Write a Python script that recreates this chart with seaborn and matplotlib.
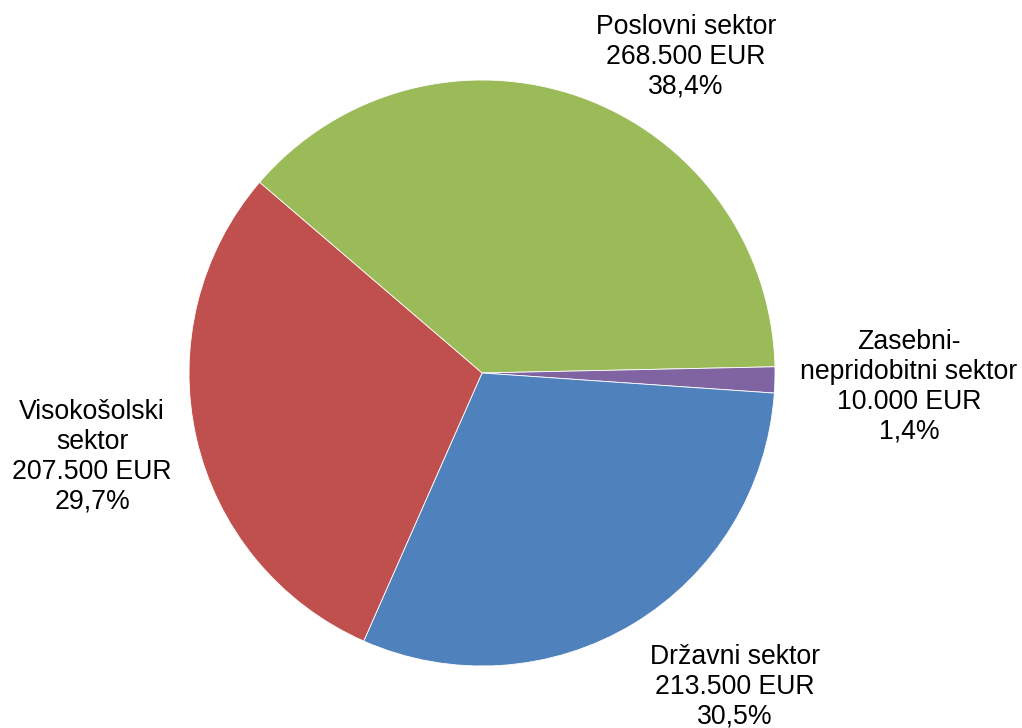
import matplotlib
matplotlib.use("Agg")
import matplotlib.pyplot as plt
import numpy as np
import seaborn as sb

sb.set_theme(style="white")
plt.rcParams['font.family'] = ['Liberation Sans', 'DejaVu Sans']

sectors = ['Poslovni sektor', 'Zasebni-\nnepridobitni sektor', 'Državni sektor', 'Visokošolski\nsektor']
amounts = [268500, 10000, 213500, 207500]
shares = ['38,4%', '1,4%', '30,5%', '29,7%']
colors = ['#9BBB59', '#8064A2', '#4F81BD', '#C0504D']

# label centres (data units, pie radius = 1)
label_pos = [(0.696, 1.078), (1.457, -0.048), (0.864, -1.072), (-1.331, -0.287)]

fig = plt.figure(figsize=(10.22, 7.28), dpi=100)
ax = fig.add_axes([0, 0, 1, 1])
ax.pie(amounts, colors=colors, startangle=139.4, counterclock=False,
       radius=1, center=(0, 0),
       wedgeprops=dict(edgecolor='white', linewidth=0.6))
ax.set_aspect('auto')
ax.set_xlim(-482 / 293, (1022 - 482) / 293)
ax.set_ylim(-(728 - 373) / 293, 373 / 293)
ax.axis('off')

for name, amt, pct, (x, y) in zip(sectors, amounts, shares, label_pos):
    amt_txt = f"{amt:,}".replace(',', '.')
    txt = f"{name}\n{amt_txt} EUR\n{pct}"
    ax.text(x, y, txt, ha='center', va='center', fontsize=19.2,
            linespacing=1.19, color='black')

fig.savefig('out.png', dpi=100)
